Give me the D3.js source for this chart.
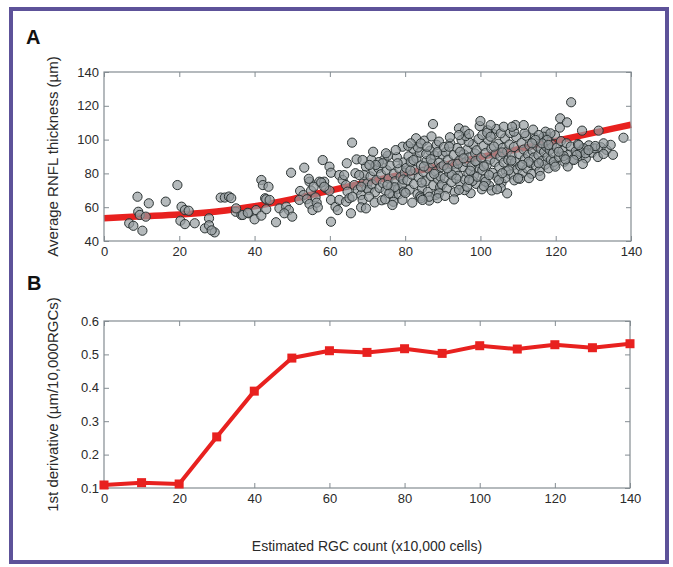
<!DOCTYPE html>
<html>
<head>
<meta charset="utf-8">
<script src="https://cdn.jsdelivr.net/npm/d3@7"></script>
<style>
  body { margin: 0; background: #fff; }
  svg text { font-family: "Liberation Sans", Arial, Helvetica, sans-serif; }
</style>
</head>
<body>
<svg id="fig" width="673" height="567"></svg>
<script>
// ---- Panel A: individual eyes (RGC count ×10,000, average RNFL thickness µm) ----
const scatterPoints = [
  // sparse low range
  [6.7,50.5],[7.8,49],[8.9,66.2],[10.2,46.1],[9.1,57.3],[9.5,55.4],[11.1,54.4],[11.9,62.3],
  [16.4,63.3],[19.5,73.1],[20.6,60.3],[21.5,58.3],[22.5,57.9],[20.3,52],[21.5,50],[24.1,50.5],
  [26.8,47.5],[27.9,53.4],[27.9,49.3],[29.4,45.1],[28.6,46.3],[31,65.7],[32.1,65.7],[33.2,66.3],
  [33.8,65.4],[35,57.3],[36.5,55.4],[38.4,56.4],[40,52.8],[40.4,58.3],[41.8,76.1],[42.2,73.1],
  [43.7,72.1],[42.8,65.3],[43.1,64.7],[44,64.3],[41.8,55],[45.7,51.1],[46.6,59.3],[48.4,60.3],
  [49.1,58.3],[47.9,56.4],[35.1,59.3],[36.9,55.4],[38.2,56.7],[43.1,58.8],
  // 50–70
  [49.7,80.4],[50,54.4],[52.1,69.6],[53,67.2],[51.9,64.3],[53.9,64.7],[54.6,75.1],[54.6,61.9],
  [55,69.8],[55.4,58.3],[56.2,65.8],[56.5,62.7],[56.8,59.9],[53.2,83.4],[57.2,75.1],[58.5,75.1],
  [59,71.2],[58.1,87.9],[59.9,84],[60.3,80.4],[59.9,69.8],[60.3,64.3],[61.5,60.3],[62.1,58.3],
  [62.5,64.3],[60.3,51.4],[62.5,79],[63.4,76.1],[63.8,79],[64.3,73.1],[64.5,86],[64.7,69.2],
  [64.3,63.3],[65.9,98.2],[65.6,56.4],[67.1,88.3],[66.5,73.1],[67.4,70.2],[68.3,67.2],[66.8,80.1],
  [68.7,64.3],[68.3,59.9],[69.1,75.1],[69.6,84],[69.8,71.2],[69.1,79],
  [54.4,76.8],[55.7,72.1],[57.7,74.6],[58.5,72.1],[65.2,65.3],[66,66.2],[69.6,59.3],[70,74.1],
  [70.3,70.2],[67.8,79],[68.3,72.1],
  // 70–80
  [70.8,78.2],[71.2,73.5],[71.6,81.4],[72.0,68.9],[72.4,76.0],[72.9,83.1],[73.2,71.4],[73.6,79.5],
  [74.1,74.2],[74.5,88.3],[74.8,69.8],[75.1,81.9],[75.6,77.0],[76.0,84.6],[76.3,72.3],[76.7,66.5],
  [77.0,79.8],[77.4,75.4],[77.8,89.6],[78.1,70.9],[78.5,82.7],[78.8,77.9],[79.2,73.6],[79.6,86.5],
  [79.9,80.4],[70.4,66.2],[71.9,62.8],[73.8,64.1],[75.4,90.5],[76.9,63.2],[78.3,67.7],[79.5,76.4],
  [73.0,86.7],[71.0,88.1],[77.2,71.8],
  [71.5,92.8],[68.7,87.9],[76.6,61.3],[74.7,64.7],[75.8,68.2],[75.3,73.1],[79.3,64.3],[79.7,69.2],
  [79.3,95.8],[74.9,91.9],[77.5,93.8],[78,86],[74,86],[72.2,85],[70.5,85],
  // 80–90
  [80.3,83.2],[80.6,75.9],[80.9,90.1],[81.2,70.4],[81.5,86.8],[81.8,79.3],[82.1,94.6],[82.4,73.7],
  [82.7,82.0],[83.0,88.9],[83.3,67.8],[83.6,77.6],[83.9,92.3],[84.2,84.7],[84.5,71.2],[84.8,80.9],
  [85.1,99.4],[85.4,75.3],[85.7,87.4],[86.0,69.1],[86.3,82.6],[86.6,93.5],[86.9,78.4],[87.2,85.9],
  [87.5,73.0],[87.8,90.7],[88.1,81.1],[88.4,96.9],[88.7,76.7],[89.0,86.3],[89.3,71.9],[89.6,83.8],
  [89.9,91.2],[80.8,96.3],[81.9,62.7],[82.9,100.8],[84.0,66.4],[85.6,91.5],[86.4,63.9],[87.0,101.9],
  [88.2,67.3],[89.4,78.0],[80.1,68.4],[83.4,95.3],[85.0,84.1],[86.8,88.4],[88.6,92.6],[87.7,79.7],
  [84.4,74.6],[82.2,87.9],[89.8,73.5],[81.4,81.7],
  [87.4,109.2],[81.5,97.8],[84.2,97.8],[89,98.8],[85.9,95.8],[84.2,65.3],[86.4,66.2],[89,68.2],
  [84.6,64.3],[88.6,65.3],
  // 90–100
  [90.2,84.8],[90.5,77.3],[90.8,92.6],[91.1,71.0],[91.4,88.1],[91.7,80.5],[92.0,97.7],[92.3,74.8],
  [92.6,85.3],[92.9,90.9],[93.2,68.9],[93.5,82.2],[93.8,95.0],[94.1,78.6],[94.4,87.6],[94.7,73.4],
  [95.0,99.8],[95.3,83.7],[95.6,91.3],[95.9,76.2],[96.2,86.8],[96.5,94.1],[96.8,80.0],[97.1,89.5],
  [97.4,68.3],[97.7,84.4],[98.0,97.2],[98.3,78.9],[98.6,91.8],[98.9,73.8],[99.2,86.1],[99.5,100.3],
  [99.8,82.6],[90.6,66.7],[91.9,101.4],[93.0,64.6],[94.6,92.8],[95.8,70.1],[96.9,98.6],[97.9,75.5],
  [99.0,93.7],[90.3,95.6],[92.4,79.2],[94.0,85.7],[95.5,88.9],[97.3,81.6],[98.7,87.3],[93.6,76.9],
  [91.2,83.0],[96.1,102.1],
  [94.3,106.7],[95.9,105.3],[97,103.3],[99.8,108],[94.3,102.7],[91.7,95.8],[94.3,70.2],[96.5,72.1],
  [99.2,78],[97,76.1],
  // 100–110
  [100.2,89.4],[100.5,81.8],[100.8,96.3],[101.1,76.5],[101.4,92.1],[101.7,85.0],[102.0,99.9],[102.3,72.8],
  [102.6,88.2],[102.9,94.7],[103.2,80.3],[103.5,103.2],[103.8,86.7],[104.1,91.5],[104.4,77.8],[104.7,97.6],
  [105.0,83.9],[105.3,89.9],[105.6,74.5],[105.9,95.1],[106.2,86.4],[106.5,100.8],[106.8,81.2],[107.1,92.9],
  [107.4,88.0],[107.7,97.1],[108.0,79.4],[108.3,90.6],[108.6,84.7],[108.9,95.6],[109.2,86.9],[109.5,101.5],
  [109.8,82.5],[100.4,70.6],[101.9,105.5],[103.0,69.9],[104.2,106.3],[105.4,71.4],[106.6,77.3],[107.9,103.9],
  [109.0,75.9],[100.9,84.1],[103.6,95.9],[105.8,92.4],[108.2,87.6],
  [100.5,102.7],[101.8,104.1],[102.7,101.7],[101.4,75.1],[102.3,79],[100.9,72.5],[100,111],
  [102.7,108.6],[105.4,103.7],[106.2,107.6],[108.9,104.7],[109.3,108.6],[107.1,68.2],[104.4,70.6],
  [104.9,76.1],[107.5,81.8],[105.8,80.1],[108.4,107.6],
  // 110–120
  [110.3,91.4],[110.6,84.3],[110.9,98.0],[111.2,80.2],[111.5,94.1],[111.8,88.5],[112.1,102.3],[112.4,82.9],
  [112.7,91.0],[113.0,96.5],[113.3,86.1],[113.6,79.7],[113.9,93.2],[114.2,89.4],[114.5,101.0],[114.8,84.6],
  [115.1,96.0],[115.4,90.8],[115.7,81.5],[116.0,94.5],[116.3,87.3],[116.6,99.3],[116.9,92.6],[117.2,85.2],
  [117.5,95.8],[117.8,89.7],[118.1,101.4],[118.4,93.9],[118.7,88.0],[119.0,97.0],[119.3,91.9],[119.6,84.9],
  [110.5,76.8],[112.9,77.2],[115.9,78.5],[111.7,103.8],[114.0,105.9],[119.8,102.6],
  [111.5,108.6],[110,77.1],[115.5,86],[112.8,86.9],[111.1,85],[118.1,83],[119.5,86.9],[119.9,84],
  [117.3,104.7],[116.8,101.7],[118.6,103.7],[117.7,99.8],[116.4,97.8],[118.1,96.8],[115.5,102.7],
  [114.6,99.8],[113.7,97.8],
  // 120–140
  [120.3,95.2],[120.9,89.6],[121.4,99.1],[121.8,93.4],[122.3,86.9],[122.9,97.8],[123.5,91.2],[124.0,95.9],
  [124.6,88.4],[125.3,93.0],[125.9,97.4],[126.5,90.1],[127.3,94.1],[128.0,88.9],[128.8,96.6],[129.6,92.3],
  [130.4,94.8],[131.2,89.7],[132.0,95.5],[133.5,93.9],[134.6,96.9],[135.2,91.0],[123.2,84.1],[121.1,107.1],
  [124.1,122.1],[121.2,112.6],[123,110.2],[131.4,105.3],[127,105.3],[138,101.1],[132.7,97.8],[130.5,96.2],
  [132.7,91.5],[127.4,94.9],[126.5,92.8],[126.1,96.8],[127.9,91.9],[125.6,90.9],[128.7,93.8],[124.8,87.9],
  [127.2,85.6],[122.1,90.3],[122.6,88.3],[120.8,92.8]
];

// Fitted thickness curve (µm) at RGC counts 0..140
const fitX = [0, 10, 20, 30, 40, 50, 60, 70, 80, 90, 100, 110, 120, 130, 140];
const fitY = [53.5, 54.6, 55.7, 57.5, 60.6, 64.8, 69.8, 74.8, 79.8, 84.8, 89.6, 94.4, 99.2, 104.0, 108.8];

// ---- Panel B: first derivative of the fit (µm per 10,000 RGCs) ----
const derivX = [0, 10, 20, 30, 40, 50, 60, 70, 80, 90, 100, 110, 120, 130, 140];
const derivY = [0.109, 0.116, 0.112, 0.253, 0.390, 0.489, 0.511, 0.506, 0.517, 0.503, 0.526, 0.516, 0.529, 0.520, 0.532];

// Tick values
const xTickValues = [0, 20, 40, 60, 80, 100, 120, 140];
const yTicksA = [40, 60, 80, 100, 120, 140];
const yTicksB = [0.1, 0.2, 0.3, 0.4, 0.5, 0.6];

const RED = "#e8211f";
const AXIS = "#848c92";
const TEXT = "#2a2a2a";

const svg = d3.select("#fig");

// outer frame
svg.append("rect")
  .attr("x", 11).attr("y", 9).attr("width", 656).attr("height", 553)
  .attr("fill", "none").attr("stroke", "#5d5299").attr("stroke-width", 4);

function framedAxes(g, x, y, yTicks, yFmt) {
  const [x0, x1] = x.range();
  const [y0, y1] = y.range(); // y0 bottom, y1 top
  const style = sel => {
    sel.select(".domain").remove();
    sel.selectAll("line").attr("stroke", AXIS);
    sel.selectAll("text").attr("fill", TEXT).attr("font-size", 13);
  };
  g.append("g").attr("transform", `translate(0,${y0})`)
    .call(d3.axisBottom(x).tickValues(xTickValues).tickSize(-5).tickPadding(6).tickFormat(d3.format("d")))
    .call(style);
  g.append("g").attr("transform", `translate(0,${y1})`)
    .call(d3.axisTop(x).tickValues(xTickValues).tickSize(-5).tickFormat(""))
    .call(style);
  g.append("g").attr("transform", `translate(${x0},0)`)
    .call(d3.axisLeft(y).tickValues(yTicks).tickSize(-5).tickPadding(5).tickFormat(yFmt))
    .call(style);
  g.append("g").attr("transform", `translate(${x1},0)`)
    .call(d3.axisRight(y).tickValues(yTicks).tickSize(-5).tickFormat(""))
    .call(style);
  g.append("rect")
    .attr("x", x0).attr("y", y1).attr("width", x1 - x0).attr("height", y0 - y1)
    .attr("fill", "none").attr("stroke", AXIS).attr("stroke-width", 1.2);
}

// ---------- Panel A ----------
const xA = d3.scaleLinear().domain([0, 140]).range([104, 631]);
const yA = d3.scaleLinear().domain([40, 140]).range([241, 72]);
const gA = svg.append("g");

gA.append("path")
  .datum(fitX.map((v, i) => [v, fitY[i]]))
  .attr("fill", "none").attr("stroke", RED).attr("stroke-width", 6.5)
  .attr("d", d3.line().x(d => xA(d[0])).y(d => yA(d[1])).curve(d3.curveMonotoneX));

gA.append("g").selectAll("circle")
  .data(scatterPoints)
  .join("circle")
  .attr("cx", d => xA(d[0])).attr("cy", d => yA(d[1])).attr("r", 4.6)
  .attr("fill", "rgba(150,156,160,0.7)")
  .attr("stroke", "#2c3434").attr("stroke-width", 1);

framedAxes(gA, xA, yA, yTicksA, d3.format("d"));

gA.append("text").attr("x", 26).attr("y", 44)
  .attr("font-size", 20).attr("font-weight", "bold").attr("fill", "#111").text("A");
gA.append("text")
  .attr("transform", `translate(58,${(72 + 241) / 2}) rotate(-90)`)
  .attr("text-anchor", "middle").attr("font-size", 15).attr("fill", TEXT)
  .text("Average RNFL thickness (µm)");

// ---------- Panel B ----------
const xB = d3.scaleLinear().domain([0, 140]).range([104, 630]);
const yB = d3.scaleLinear().domain([0.1, 0.6]).range([488, 321]);
const gB = svg.append("g");

framedAxes(gB, xB, yB, yTicksB, d3.format(".1f"));

const derivPts = derivX.map((v, i) => [v, derivY[i]]);
gB.append("path")
  .datum(derivPts)
  .attr("fill", "none").attr("stroke", RED).attr("stroke-width", 4)
  .attr("stroke-linejoin", "round")
  .attr("d", d3.line().x(d => xB(d[0])).y(d => yB(d[1])));
gB.append("g").selectAll("rect")
  .data(derivPts)
  .join("rect")
  .attr("x", d => xB(d[0]) - 4.5).attr("y", d => yB(d[1]) - 4.5)
  .attr("width", 9).attr("height", 9).attr("fill", RED);

gB.append("text").attr("x", 27).attr("y", 290)
  .attr("font-size", 20).attr("font-weight", "bold").attr("fill", "#111").text("B");
gB.append("text")
  .attr("transform", `translate(58,${(321 + 488) / 2}) rotate(-90)`)
  .attr("text-anchor", "middle").attr("font-size", 15).attr("fill", TEXT)
  .text("1st derivative (µm/10,000RGCs)");

svg.append("text")
  .attr("x", 367).attr("y", 551)
  .attr("text-anchor", "middle").attr("font-size", 14).attr("fill", TEXT)
  .text("Estimated RGC count (x10,000 cells)");
</script>
</body>
</html>
